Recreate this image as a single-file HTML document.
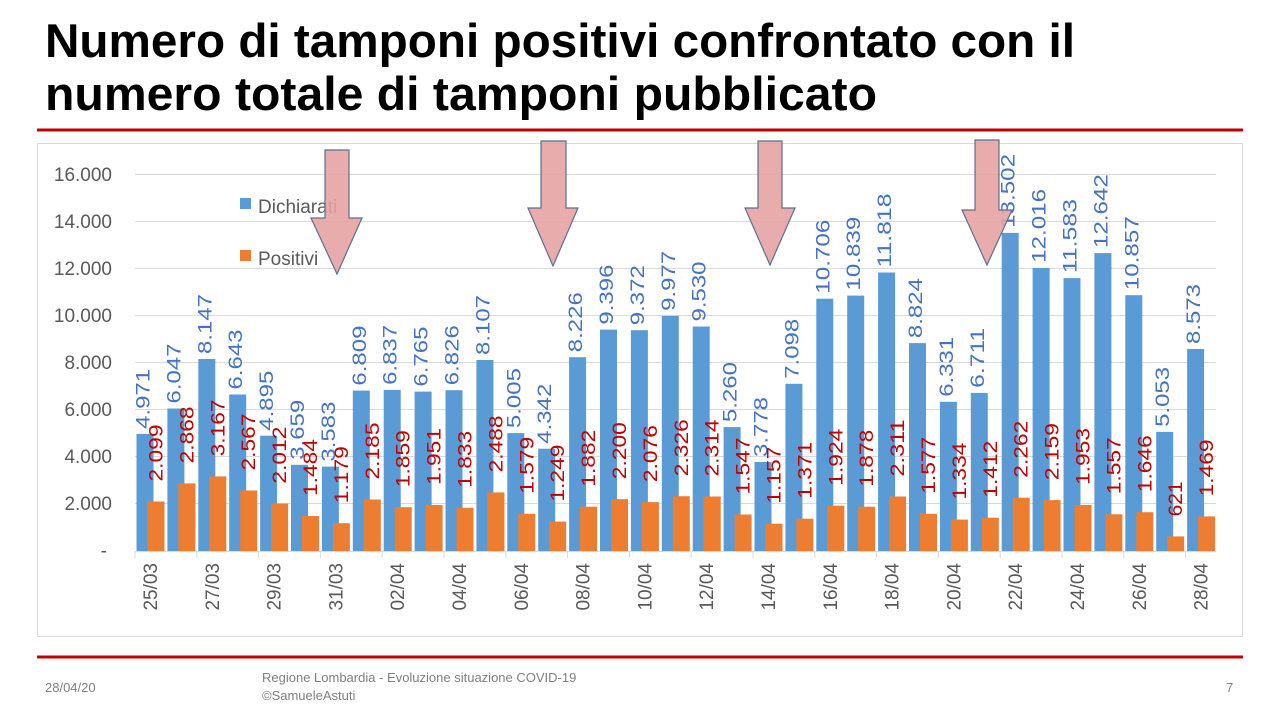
<!DOCTYPE html>
<html><head><meta charset="utf-8"><style>html,body{margin:0;padding:0;background:#fff}svg{display:block}</style></head>
<body>
<svg width="1280" height="720" viewBox="0 0 1280 720" xmlns="http://www.w3.org/2000/svg" font-family="Liberation Sans, sans-serif">
<text x="45" y="57" font-size="47" font-weight="bold" fill="#000" textLength="1030" lengthAdjust="spacingAndGlyphs">Numero di tamponi positivi confrontato con il</text>
<text x="45" y="110" font-size="47" font-weight="bold" fill="#000" textLength="832" lengthAdjust="spacingAndGlyphs">numero totale di tamponi pubblicato</text>
<rect x="37" y="128.5" width="1206" height="3" fill="#c00000"/>
<rect x="37.5" y="143.5" width="1205" height="493" fill="#fff" stroke="#d9d9d9"/>
<g stroke="#d9d9d9" stroke-width="1">
<line x1="135" x2="1216" y1="174.5" y2="174.5"/><line x1="135" x2="1216" y1="221.5" y2="221.5"/><line x1="135" x2="1216" y1="268.5" y2="268.5"/><line x1="135" x2="1216" y1="315.5" y2="315.5"/><line x1="135" x2="1216" y1="362.5" y2="362.5"/><line x1="135" x2="1216" y1="409.5" y2="409.5"/><line x1="135" x2="1216" y1="456.5" y2="456.5"/><line x1="135" x2="1216" y1="503.5" y2="503.5"/>
</g>
<g font-size="19" fill="#595959" text-anchor="end">
<text x="112" y="181">16.000</text><text x="112" y="228">14.000</text><text x="112" y="275">12.000</text><text x="112" y="322">10.000</text><text x="112" y="369">8.000</text><text x="112" y="416">6.000</text><text x="112" y="463">4.000</text><text x="112" y="510">2.000</text><text x="107" y="557">-</text>
</g>
<rect x="240" y="198" width="11" height="11" fill="#5b9bd5"/>
<text x="258" y="213" font-size="19" fill="#595959">Dichiarati</text>
<rect x="240" y="250" width="11" height="11" fill="#ed7d31"/>
<text x="258" y="265" font-size="19" fill="#595959">Positivi</text>
<g id="bars" font-size="19">
<g transform="translate(135,0)"><rect x="1.5" y="433.9" width="17" height="117.1" fill="#5b9bd5"/><rect x="12.5" y="501.5" width="17" height="49.5" fill="#ed7d31"/><text transform="translate(14.5,428.9) rotate(-90)" fill="#4472c4" textLength="60" lengthAdjust="spacingAndGlyphs">4.971</text><text transform="translate(27.5,481.5) rotate(-90)" fill="#c00000" textLength="57" lengthAdjust="spacingAndGlyphs">2.099</text></g>
<g transform="translate(165.9,0)"><rect x="1.5" y="408.5" width="17" height="142.5" fill="#5b9bd5"/><rect x="12.5" y="483.4" width="17" height="67.6" fill="#ed7d31"/><text transform="translate(14.5,403.5) rotate(-90)" fill="#4472c4" textLength="60" lengthAdjust="spacingAndGlyphs">6.047</text><text transform="translate(27.5,463.4) rotate(-90)" fill="#c00000" textLength="57" lengthAdjust="spacingAndGlyphs">2.868</text></g>
<g transform="translate(196.8,0)"><rect x="1.5" y="359" width="17" height="192" fill="#5b9bd5"/><rect x="12.5" y="476.4" width="17" height="74.6" fill="#ed7d31"/><text transform="translate(14.5,354) rotate(-90)" fill="#4472c4" textLength="60" lengthAdjust="spacingAndGlyphs">8.147</text><text transform="translate(27.5,456.4) rotate(-90)" fill="#c00000" textLength="57" lengthAdjust="spacingAndGlyphs">3.167</text></g>
<g transform="translate(227.7,0)"><rect x="1.5" y="394.5" width="17" height="156.5" fill="#5b9bd5"/><rect x="12.5" y="490.5" width="17" height="60.5" fill="#ed7d31"/><text transform="translate(14.5,389.5) rotate(-90)" fill="#4472c4" textLength="60" lengthAdjust="spacingAndGlyphs">6.643</text><text transform="translate(27.5,470.5) rotate(-90)" fill="#c00000" textLength="57" lengthAdjust="spacingAndGlyphs">2.567</text></g>
<g transform="translate(258.6,0)"><rect x="1.5" y="435.7" width="17" height="115.3" fill="#5b9bd5"/><rect x="12.5" y="503.6" width="17" height="47.4" fill="#ed7d31"/><text transform="translate(14.5,430.7) rotate(-90)" fill="#4472c4" textLength="60" lengthAdjust="spacingAndGlyphs">4.895</text><text transform="translate(27.5,483.6) rotate(-90)" fill="#c00000" textLength="57" lengthAdjust="spacingAndGlyphs">2.012</text></g>
<g transform="translate(289.5,0)"><rect x="1.5" y="464.8" width="17" height="86.2" fill="#5b9bd5"/><rect x="12.5" y="516" width="17" height="35" fill="#ed7d31"/><text transform="translate(14.5,459.8) rotate(-90)" fill="#4472c4" textLength="60" lengthAdjust="spacingAndGlyphs">3.659</text><text transform="translate(27.5,496) rotate(-90)" fill="#c00000" textLength="57" lengthAdjust="spacingAndGlyphs">1.484</text></g>
<g transform="translate(320.4,0)"><rect x="1.5" y="466.6" width="17" height="84.4" fill="#5b9bd5"/><rect x="12.5" y="523.2" width="17" height="27.8" fill="#ed7d31"/><text transform="translate(14.5,461.6) rotate(-90)" fill="#4472c4" textLength="60" lengthAdjust="spacingAndGlyphs">3.583</text><text transform="translate(27.5,503.2) rotate(-90)" fill="#c00000" textLength="57" lengthAdjust="spacingAndGlyphs">1.179</text></g>
<g transform="translate(351.3,0)"><rect x="1.5" y="390.6" width="17" height="160.4" fill="#5b9bd5"/><rect x="12.5" y="499.5" width="17" height="51.5" fill="#ed7d31"/><text transform="translate(14.5,385.6) rotate(-90)" fill="#4472c4" textLength="60" lengthAdjust="spacingAndGlyphs">6.809</text><text transform="translate(27.5,479.5) rotate(-90)" fill="#c00000" textLength="57" lengthAdjust="spacingAndGlyphs">2.185</text></g>
<g transform="translate(382.2,0)"><rect x="1.5" y="389.9" width="17" height="161.1" fill="#5b9bd5"/><rect x="12.5" y="507.2" width="17" height="43.8" fill="#ed7d31"/><text transform="translate(14.5,384.9) rotate(-90)" fill="#4472c4" textLength="60" lengthAdjust="spacingAndGlyphs">6.837</text><text transform="translate(27.5,487.2) rotate(-90)" fill="#c00000" textLength="57" lengthAdjust="spacingAndGlyphs">1.859</text></g>
<g transform="translate(413.1,0)"><rect x="1.5" y="391.6" width="17" height="159.4" fill="#5b9bd5"/><rect x="12.5" y="505" width="17" height="46" fill="#ed7d31"/><text transform="translate(14.5,386.6) rotate(-90)" fill="#4472c4" textLength="60" lengthAdjust="spacingAndGlyphs">6.765</text><text transform="translate(27.5,485) rotate(-90)" fill="#c00000" textLength="57" lengthAdjust="spacingAndGlyphs">1.951</text></g>
<g transform="translate(444,0)"><rect x="1.5" y="390.2" width="17" height="160.8" fill="#5b9bd5"/><rect x="12.5" y="507.8" width="17" height="43.2" fill="#ed7d31"/><text transform="translate(14.5,385.2) rotate(-90)" fill="#4472c4" textLength="60" lengthAdjust="spacingAndGlyphs">6.826</text><text transform="translate(27.5,487.8) rotate(-90)" fill="#c00000" textLength="57" lengthAdjust="spacingAndGlyphs">1.833</text></g>
<g transform="translate(474.9,0)"><rect x="1.5" y="360" width="17" height="191" fill="#5b9bd5"/><rect x="12.5" y="492.4" width="17" height="58.6" fill="#ed7d31"/><text transform="translate(14.5,355) rotate(-90)" fill="#4472c4" textLength="60" lengthAdjust="spacingAndGlyphs">8.107</text><text transform="translate(27.5,472.4) rotate(-90)" fill="#c00000" textLength="57" lengthAdjust="spacingAndGlyphs">2.488</text></g>
<g transform="translate(505.8,0)"><rect x="1.5" y="433.1" width="17" height="117.9" fill="#5b9bd5"/><rect x="12.5" y="513.8" width="17" height="37.2" fill="#ed7d31"/><text transform="translate(14.5,428.1) rotate(-90)" fill="#4472c4" textLength="60" lengthAdjust="spacingAndGlyphs">5.005</text><text transform="translate(27.5,493.8) rotate(-90)" fill="#c00000" textLength="57" lengthAdjust="spacingAndGlyphs">1.579</text></g>
<g transform="translate(536.7,0)"><rect x="1.5" y="448.7" width="17" height="102.3" fill="#5b9bd5"/><rect x="12.5" y="521.6" width="17" height="29.4" fill="#ed7d31"/><text transform="translate(14.5,443.7) rotate(-90)" fill="#4472c4" textLength="60" lengthAdjust="spacingAndGlyphs">4.342</text><text transform="translate(27.5,501.6) rotate(-90)" fill="#c00000" textLength="57" lengthAdjust="spacingAndGlyphs">1.249</text></g>
<g transform="translate(567.6,0)"><rect x="1.5" y="357.2" width="17" height="193.8" fill="#5b9bd5"/><rect x="12.5" y="506.7" width="17" height="44.3" fill="#ed7d31"/><text transform="translate(14.5,352.2) rotate(-90)" fill="#4472c4" textLength="60" lengthAdjust="spacingAndGlyphs">8.226</text><text transform="translate(27.5,486.7) rotate(-90)" fill="#c00000" textLength="57" lengthAdjust="spacingAndGlyphs">1.882</text></g>
<g transform="translate(598.5,0)"><rect x="1.5" y="329.6" width="17" height="221.4" fill="#5b9bd5"/><rect x="12.5" y="499.2" width="17" height="51.8" fill="#ed7d31"/><text transform="translate(14.5,324.6) rotate(-90)" fill="#4472c4" textLength="60" lengthAdjust="spacingAndGlyphs">9.396</text><text transform="translate(27.5,479.2) rotate(-90)" fill="#c00000" textLength="57" lengthAdjust="spacingAndGlyphs">2.200</text></g>
<g transform="translate(629.4,0)"><rect x="1.5" y="330.2" width="17" height="220.8" fill="#5b9bd5"/><rect x="12.5" y="502.1" width="17" height="48.9" fill="#ed7d31"/><text transform="translate(14.5,325.2) rotate(-90)" fill="#4472c4" textLength="60" lengthAdjust="spacingAndGlyphs">9.372</text><text transform="translate(27.5,482.1) rotate(-90)" fill="#c00000" textLength="57" lengthAdjust="spacingAndGlyphs">2.076</text></g>
<g transform="translate(660.3,0)"><rect x="1.5" y="315.9" width="17" height="235.1" fill="#5b9bd5"/><rect x="12.5" y="496.2" width="17" height="54.8" fill="#ed7d31"/><text transform="translate(14.5,310.9) rotate(-90)" fill="#4472c4" textLength="60" lengthAdjust="spacingAndGlyphs">9.977</text><text transform="translate(27.5,476.2) rotate(-90)" fill="#c00000" textLength="57" lengthAdjust="spacingAndGlyphs">2.326</text></g>
<g transform="translate(691.2,0)"><rect x="1.5" y="326.5" width="17" height="224.5" fill="#5b9bd5"/><rect x="12.5" y="496.5" width="17" height="54.5" fill="#ed7d31"/><text transform="translate(14.5,321.5) rotate(-90)" fill="#4472c4" textLength="60" lengthAdjust="spacingAndGlyphs">9.530</text><text transform="translate(27.5,476.5) rotate(-90)" fill="#c00000" textLength="57" lengthAdjust="spacingAndGlyphs">2.314</text></g>
<g transform="translate(722.1,0)"><rect x="1.5" y="427.1" width="17" height="123.9" fill="#5b9bd5"/><rect x="12.5" y="514.5" width="17" height="36.5" fill="#ed7d31"/><text transform="translate(14.5,422.1) rotate(-90)" fill="#4472c4" textLength="60" lengthAdjust="spacingAndGlyphs">5.260</text><text transform="translate(27.5,494.5) rotate(-90)" fill="#c00000" textLength="57" lengthAdjust="spacingAndGlyphs">1.547</text></g>
<g transform="translate(753,0)"><rect x="1.5" y="462" width="17" height="89" fill="#5b9bd5"/><rect x="12.5" y="523.7" width="17" height="27.3" fill="#ed7d31"/><text transform="translate(14.5,457) rotate(-90)" fill="#4472c4" textLength="60" lengthAdjust="spacingAndGlyphs">3.778</text><text transform="translate(27.5,503.7) rotate(-90)" fill="#c00000" textLength="57" lengthAdjust="spacingAndGlyphs">1.157</text></g>
<g transform="translate(783.9,0)"><rect x="1.5" y="383.8" width="17" height="167.2" fill="#5b9bd5"/><rect x="12.5" y="518.7" width="17" height="32.3" fill="#ed7d31"/><text transform="translate(14.5,378.8) rotate(-90)" fill="#4472c4" textLength="60" lengthAdjust="spacingAndGlyphs">7.098</text><text transform="translate(27.5,498.7) rotate(-90)" fill="#c00000" textLength="57" lengthAdjust="spacingAndGlyphs">1.371</text></g>
<g transform="translate(814.8,0)"><rect x="1.5" y="298.7" width="17" height="252.3" fill="#5b9bd5"/><rect x="12.5" y="505.7" width="17" height="45.3" fill="#ed7d31"/><text transform="translate(14.5,293.7) rotate(-90)" fill="#4472c4" textLength="74" lengthAdjust="spacingAndGlyphs">10.706</text><text transform="translate(27.5,485.7) rotate(-90)" fill="#c00000" textLength="57" lengthAdjust="spacingAndGlyphs">1.924</text></g>
<g transform="translate(845.7,0)"><rect x="1.5" y="295.6" width="17" height="255.4" fill="#5b9bd5"/><rect x="12.5" y="506.7" width="17" height="44.3" fill="#ed7d31"/><text transform="translate(14.5,290.6) rotate(-90)" fill="#4472c4" textLength="74" lengthAdjust="spacingAndGlyphs">10.839</text><text transform="translate(27.5,486.7) rotate(-90)" fill="#c00000" textLength="57" lengthAdjust="spacingAndGlyphs">1.878</text></g>
<g transform="translate(876.6,0)"><rect x="1.5" y="272.5" width="17" height="278.5" fill="#5b9bd5"/><rect x="12.5" y="496.5" width="17" height="54.5" fill="#ed7d31"/><text transform="translate(14.5,267.5) rotate(-90)" fill="#4472c4" textLength="74" lengthAdjust="spacingAndGlyphs">11.818</text><text transform="translate(27.5,476.5) rotate(-90)" fill="#c00000" textLength="57" lengthAdjust="spacingAndGlyphs">2.311</text></g>
<g transform="translate(907.5,0)"><rect x="1.5" y="343.1" width="17" height="207.9" fill="#5b9bd5"/><rect x="12.5" y="513.8" width="17" height="37.2" fill="#ed7d31"/><text transform="translate(14.5,338.1) rotate(-90)" fill="#4472c4" textLength="60" lengthAdjust="spacingAndGlyphs">8.824</text><text transform="translate(27.5,493.8) rotate(-90)" fill="#c00000" textLength="57" lengthAdjust="spacingAndGlyphs">1.577</text></g>
<g transform="translate(938.4,0)"><rect x="1.5" y="401.8" width="17" height="149.2" fill="#5b9bd5"/><rect x="12.5" y="519.6" width="17" height="31.4" fill="#ed7d31"/><text transform="translate(14.5,396.8) rotate(-90)" fill="#4472c4" textLength="60" lengthAdjust="spacingAndGlyphs">6.331</text><text transform="translate(27.5,499.6) rotate(-90)" fill="#c00000" textLength="57" lengthAdjust="spacingAndGlyphs">1.334</text></g>
<g transform="translate(969.3,0)"><rect x="1.5" y="392.9" width="17" height="158.1" fill="#5b9bd5"/><rect x="12.5" y="517.7" width="17" height="33.3" fill="#ed7d31"/><text transform="translate(14.5,387.9) rotate(-90)" fill="#4472c4" textLength="60" lengthAdjust="spacingAndGlyphs">6.711</text><text transform="translate(27.5,497.7) rotate(-90)" fill="#c00000" textLength="57" lengthAdjust="spacingAndGlyphs">1.412</text></g>
<g transform="translate(1000.2,0)"><rect x="1.5" y="232.9" width="17" height="318.1" fill="#5b9bd5"/><rect x="12.5" y="497.7" width="17" height="53.3" fill="#ed7d31"/><text transform="translate(14.5,227.9) rotate(-90)" fill="#4472c4" textLength="74" lengthAdjust="spacingAndGlyphs">13.502</text><text transform="translate(27.5,477.7) rotate(-90)" fill="#c00000" textLength="57" lengthAdjust="spacingAndGlyphs">2.262</text></g>
<g transform="translate(1031.1,0)"><rect x="1.5" y="267.9" width="17" height="283.1" fill="#5b9bd5"/><rect x="12.5" y="500.1" width="17" height="50.9" fill="#ed7d31"/><text transform="translate(14.5,262.9) rotate(-90)" fill="#4472c4" textLength="74" lengthAdjust="spacingAndGlyphs">12.016</text><text transform="translate(27.5,480.1) rotate(-90)" fill="#c00000" textLength="57" lengthAdjust="spacingAndGlyphs">2.159</text></g>
<g transform="translate(1062,0)"><rect x="1.5" y="278.1" width="17" height="272.9" fill="#5b9bd5"/><rect x="12.5" y="505" width="17" height="46" fill="#ed7d31"/><text transform="translate(14.5,273.1) rotate(-90)" fill="#4472c4" textLength="74" lengthAdjust="spacingAndGlyphs">11.583</text><text transform="translate(27.5,485) rotate(-90)" fill="#c00000" textLength="57" lengthAdjust="spacingAndGlyphs">1.953</text></g>
<g transform="translate(1092.9,0)"><rect x="1.5" y="253.1" width="17" height="297.9" fill="#5b9bd5"/><rect x="12.5" y="514.3" width="17" height="36.7" fill="#ed7d31"/><text transform="translate(14.5,248.1) rotate(-90)" fill="#4472c4" textLength="74" lengthAdjust="spacingAndGlyphs">12.642</text><text transform="translate(27.5,494.3) rotate(-90)" fill="#c00000" textLength="57" lengthAdjust="spacingAndGlyphs">1.557</text></g>
<g transform="translate(1123.8,0)"><rect x="1.5" y="295.2" width="17" height="255.8" fill="#5b9bd5"/><rect x="12.5" y="512.2" width="17" height="38.8" fill="#ed7d31"/><text transform="translate(14.5,290.2) rotate(-90)" fill="#4472c4" textLength="74" lengthAdjust="spacingAndGlyphs">10.857</text><text transform="translate(27.5,492.2) rotate(-90)" fill="#c00000" textLength="57" lengthAdjust="spacingAndGlyphs">1.646</text></g>
<g transform="translate(1154.7,0)"><rect x="1.5" y="431.9" width="17" height="119.1" fill="#5b9bd5"/><rect x="12.5" y="536.4" width="17" height="14.6" fill="#ed7d31"/><text transform="translate(14.5,426.9) rotate(-90)" fill="#4472c4" textLength="60" lengthAdjust="spacingAndGlyphs">5.053</text><text transform="translate(27.5,516.4) rotate(-90)" fill="#c00000" textLength="35" lengthAdjust="spacingAndGlyphs">621</text></g>
<g transform="translate(1185.6,0)"><rect x="1.5" y="349" width="17" height="202" fill="#5b9bd5"/><rect x="12.5" y="516.4" width="17" height="34.6" fill="#ed7d31"/><text transform="translate(14.5,344) rotate(-90)" fill="#4472c4" textLength="60" lengthAdjust="spacingAndGlyphs">8.573</text><text transform="translate(27.5,496.4) rotate(-90)" fill="#c00000" textLength="57" lengthAdjust="spacingAndGlyphs">1.469</text></g>
</g>
<line x1="135" x2="1216" y1="551.5" y2="551.5" stroke="#d9d9d9"/>
<g stroke="#d9d9d9">
<line x1="135" x2="135" y1="551" y2="558"/><line x1="196.8" x2="196.8" y1="551" y2="558"/><line x1="258.6" x2="258.6" y1="551" y2="558"/><line x1="320.4" x2="320.4" y1="551" y2="558"/><line x1="382.2" x2="382.2" y1="551" y2="558"/><line x1="444" x2="444" y1="551" y2="558"/><line x1="505.8" x2="505.8" y1="551" y2="558"/><line x1="567.6" x2="567.6" y1="551" y2="558"/><line x1="629.4" x2="629.4" y1="551" y2="558"/><line x1="691.2" x2="691.2" y1="551" y2="558"/><line x1="753" x2="753" y1="551" y2="558"/><line x1="814.8" x2="814.8" y1="551" y2="558"/><line x1="876.6" x2="876.6" y1="551" y2="558"/><line x1="938.4" x2="938.4" y1="551" y2="558"/><line x1="1000.2" x2="1000.2" y1="551" y2="558"/><line x1="1062" x2="1062" y1="551" y2="558"/><line x1="1123.8" x2="1123.8" y1="551" y2="558"/><line x1="1185.6" x2="1185.6" y1="551" y2="558"/>
</g>
<g font-size="19" fill="#595959" text-anchor="end">
<text transform="translate(157,563) rotate(-90)">25/03</text>
<text transform="translate(218.8,563) rotate(-90)">27/03</text>
<text transform="translate(280.6,563) rotate(-90)">29/03</text>
<text transform="translate(342.4,563) rotate(-90)">31/03</text>
<text transform="translate(404.2,563) rotate(-90)">02/04</text>
<text transform="translate(466,563) rotate(-90)">04/04</text>
<text transform="translate(527.8,563) rotate(-90)">06/04</text>
<text transform="translate(589.6,563) rotate(-90)">08/04</text>
<text transform="translate(651.4,563) rotate(-90)">10/04</text>
<text transform="translate(713.2,563) rotate(-90)">12/04</text>
<text transform="translate(775,563) rotate(-90)">14/04</text>
<text transform="translate(836.8,563) rotate(-90)">16/04</text>
<text transform="translate(898.6,563) rotate(-90)">18/04</text>
<text transform="translate(960.4,563) rotate(-90)">20/04</text>
<text transform="translate(1022.2,563) rotate(-90)">22/04</text>
<text transform="translate(1084,563) rotate(-90)">24/04</text>
<text transform="translate(1145.8,563) rotate(-90)">26/04</text>
<text transform="translate(1207.6,563) rotate(-90)">28/04</text>
</g>
<g fill="#e6a3a3" fill-opacity="0.9" stroke="#5a6f8f" stroke-width="1.2">
<polygon points="325,150 349,150 349,218 362,218 337,274 311,218 325,218"/>
<polygon points="541,141 566,141 566,208 578,208 553,266 528,208 541,208"/>
<polygon points="758,141 782,141 782,208 795,208 770,265 745,208 758,208"/>
<polygon points="975,140 999,140 999,210 1012,210 987,265 962,210 975,210"/>
</g>
<rect x="37" y="655.5" width="1206" height="3" fill="#c00000"/>
<g font-size="13" fill="#7f7f7f">
<text x="45" y="692">28/04/20</text>
<text x="262" y="682">Regione Lombardia - Evoluzione situazione COVID-19</text>
<text x="262" y="700">©SamueleAstuti</text>
<text x="1226" y="692">7</text>
</g>
</svg>
</body></html>
